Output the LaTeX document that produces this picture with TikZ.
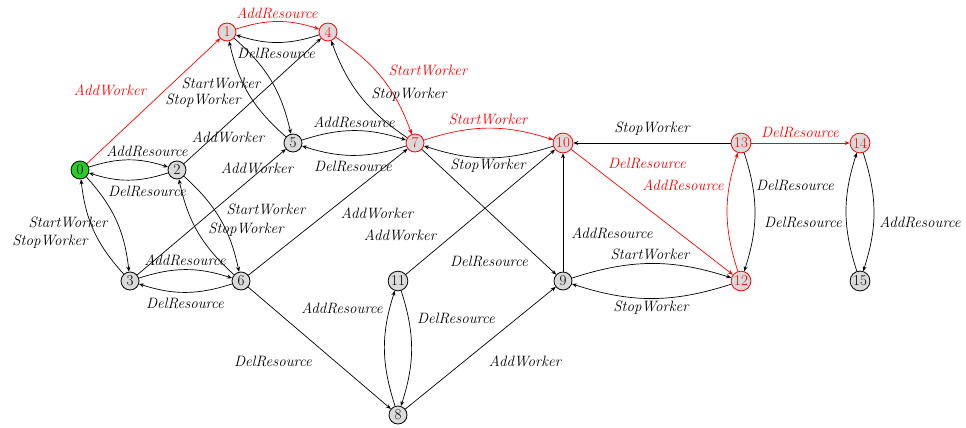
\documentclass[tikz,border=0pt]{standalone}
\usetikzlibrary{arrows.meta}
\definecolor{stategray}{RGB}{218,218,218}
\definecolor{startgreen}{RGB}{40,205,40}
\begin{document}
\begin{tikzpicture}[x=1pt,y=1pt,
  state/.style={circle,draw,fill=stategray,line width=0.8pt,inner sep=1pt,
    minimum size=18pt,font=\fontsize{15}{18}\selectfont},
  hotstate/.style={state,draw=red,text=red},
  initstate/.style={state,fill=startgreen},
  lbl/.style={font=\fontsize{15}{18}\selectfont\itshape,inner sep=0pt},
  hotlbl/.style={lbl,text=red},
  tr/.style={-{Stealth[length=5pt,width=4pt]},line width=0.7pt},
  hottr/.style={tr,draw=red},
  bl/.style={bend left=18}]
\useasboundingbox (0,0) rectangle (966,-428);

% states
\node[initstate] (n0)  at (80,-170)  {0};
\node[hotstate]  (n1)  at (227,-32)  {1};
\node[state]     (n2)  at (177,-170) {2};
\node[state]     (n3)  at (130,-281) {3};
\node[hotstate]  (n4)  at (328,-32)  {4};
\node[state]     (n5)  at (293,-143) {5};
\node[state]     (n6)  at (241,-281) {6};
\node[hotstate]  (n7)  at (415,-143) {7};
\node[state]     (n8)  at (398,-415) {8};
\node[state]     (n9)  at (563,-281) {9};
\node[hotstate]  (n10) at (563,-143) {10};
\node[state]     (n11) at (398,-281) {11};
\node[hotstate]  (n12) at (741,-281) {12};
\node[hotstate]  (n13) at (741,-143) {13};
\node[hotstate]  (n14) at (860,-143) {14};
\node[state]     (n15) at (860,-281) {15};

% highlighted path
\draw[hottr] (n0) -- (n1);
\draw[hottr] (n1) to[bl] (n4);
\draw[hottr] (n4) to[bl] (n7);
\draw[hottr] (n7) to[bl] (n10);
\draw[hottr] (n10) -- (n12);
\draw[hottr] (n12) to[bl] (n13);
\draw[hottr] (n13) -- (n14);

% curved pairs
\draw[tr] (n0) to[bl] (n2);
\draw[tr] (n2) to[bl] (n0);
\draw[tr] (n0) to[bl] (n3);
\draw[tr] (n3) to[bl] (n0);
\draw[tr] (n4) to[bl] (n1);
\draw[tr] (n1) to[bl] (n5);
\draw[tr] (n5) to[bl] (n1);
\draw[tr] (n2) to[bl] (n6);
\draw[tr] (n6) to[bl] (n2);
\draw[tr] (n3) to[bl] (n6);
\draw[tr] (n6) to[bl] (n3);
\draw[tr] (n5) to[bl] (n7);
\draw[tr] (n7) to[bl] (n5);
\draw[tr] (n7) to[bl] (n4);
\draw[tr] (n10) to[bl] (n7);
\draw[tr] (n8) to[bl] (n11);
\draw[tr] (n11) to[bl] (n8);
\draw[tr] (n9) to[bl] (n12);
\draw[tr] (n12) to[bl] (n9);
\draw[tr] (n13) to[bl] (n12);
\draw[tr] (n14) to[bl] (n15);
\draw[tr] (n15) to[bl] (n14);

% straight transitions
\draw[tr] (n2) -- (n4);
\draw[tr] (n3) -- (n5);
\draw[tr] (n6) -- (n7);
\draw[tr] (n6) -- (n8);
\draw[tr] (n7) -- (n9);
\draw[tr] (n8) -- (n9);
\draw[tr] (n11) -- (n10);
\draw[tr] (n9) -- (n10);
\draw[tr] (n13) -- (n10);

% transition labels
\node[hotlbl] (l01)   at (110,-90)  {AddWorker};
\node[hotlbl] (l14)   at (277,-13)  {AddResource};
\node[lbl]    (l41)   at (276,-53)  {DelResource};
\node[lbl]    (l15a)  at (221,-83)  {StartWorker};
\node[lbl]    (l15b)  at (203,-101) {StopWorker};
\node[lbl]    (l24)   at (228,-137) {AddWorker};
\node[lbl]    (l35)   at (257,-168) {AddWorker};
\node[lbl]    (l02)   at (147,-151) {AddResource};
\node[lbl]    (l20)   at (147,-191) {DelResource};
\node[lbl]    (l26a)  at (266,-209) {StartWorker};
\node[lbl]    (l26b)  at (246,-230) {StopWorker};
\node[lbl]    (l03a)  at (68,-222)  {StartWorker};
\node[lbl]    (l03b)  at (50,-242)  {StopWorker};
\node[lbl]    (l36)   at (185,-260) {AddResource};
\node[lbl]    (l63)   at (185,-303) {DelResource};
\node[lbl]    (l68)   at (273,-361) {DelResource};
\node[lbl]    (l67)   at (377,-213) {AddWorker};
\node[lbl]    (l1110) at (400,-235) {AddWorker};
\node[lbl]    (l79)   at (489,-261) {DelResource};
\node[lbl]    (l811)  at (342,-308) {AddResource};
\node[lbl]    (l118)  at (456,-318) {DelResource};
\node[lbl]    (l89)   at (525,-361) {AddWorker};
\node[lbl]    (l57)   at (354,-122) {AddResource};
\node[lbl]    (l75)   at (353,-166) {DelResource};
\node[hotlbl] (l47)   at (428,-70)  {StartWorker};
\node[lbl]    (l74)   at (409,-95)  {StopWorker};
\node[hotlbl] (l710)  at (488,-119) {StartWorker};
\node[lbl]    (l107)  at (488,-166) {StopWorker};
\node[lbl]    (l1310) at (652,-129) {StopWorker};
\node[hotlbl] (l1012) at (647,-163) {DelResource};
\node[hotlbl] (l1213) at (683,-185) {AddResource};
\node[lbl]    (l1312) at (795,-185) {DelResource};
\node[lbl]    (l910)  at (612,-233) {AddResource};
\node[lbl]    (l912)  at (650,-254) {StartWorker};
\node[lbl]    (l129)  at (651,-308) {StopWorker};
\node[hotlbl] (l1314) at (800,-132) {DelResource};
\node[lbl]    (l1415) at (920,-222) {AddResource};
\node[lbl]    (l1514) at (803,-222) {DelResource};
\end{tikzpicture}
\end{document}
